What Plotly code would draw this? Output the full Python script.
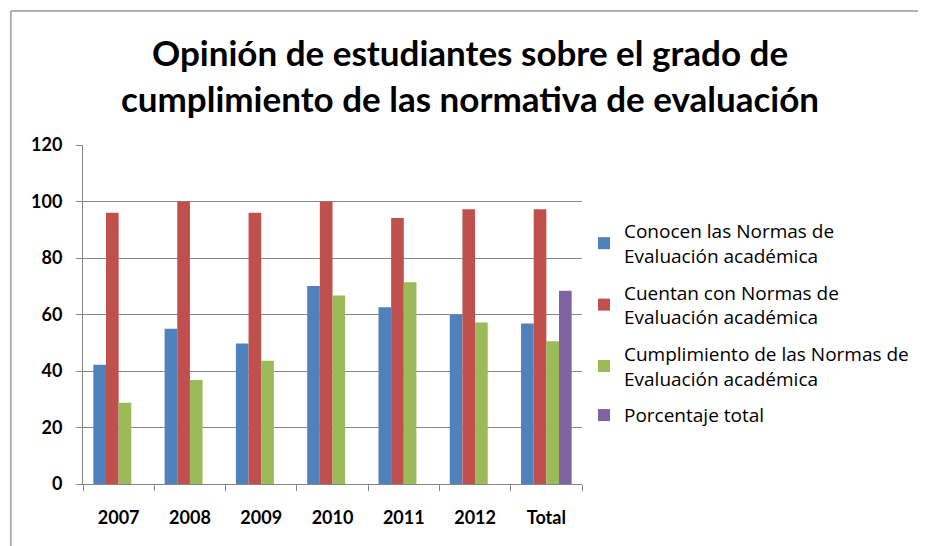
import plotly.graph_objects as go

categories = ["2007", "2008", "2009", "2010", "2011", "2012", "Total"]
conocen = [42.2, 55.0, 49.7, 70.1, 62.6, 59.9, 56.8]
cuentan = [96.0, 100.0, 96.0, 100.0, 94.2, 97.3, 97.3]
cumplimiento = [28.8, 36.8, 43.6, 66.7, 71.4, 57.2, 50.5]
porcentaje = [None, None, None, None, None, None, 68.4]

series_names = [
    "Conocen las Normas de<br>Evaluación académica",
    "Cuentan con Normas de<br>Evaluación académica",
    "Cumplimiento de las Normas de<br>Evaluación académica",
    "Porcentaje total",
]
series_values = [conocen, cuentan, cumplimiento, porcentaje]
colors = ["#4F81BD", "#C0504D", "#9BBB59", "#8064A2"]

# page body has an 8px margin; work in reference pixel coordinates and shift
OFF = 8
W, H = 926 - OFF, 546 - OFF
L, R, T, B = 83 - OFF, 588 - OFF, 145 - OFF, 484 - OFF

fig = go.Figure()
for i, (name, vals, c) in enumerate(zip(series_names, series_values, colors)):
    fig.add_trace(go.Bar(x=categories, y=vals, name=name, marker=dict(color=c, line=dict(width=0)),
                         legendgroup=f"g{i}"))

font_family = "Lato, Open Sans, sans-serif"


def px_x(px):
    return (px - OFF - L) / (R - L)


def px_y(py):
    return (B - (py - OFF)) / (B - T)


fig.update_layout(
    width=W, height=H,
    margin=dict(l=L, r=W - R, t=T, b=H - B, pad=0),
    paper_bgcolor="white", plot_bgcolor="white",
    barmode="group", bargap=0.29, bargroupgap=0,
    font=dict(family=font_family, color="#000000"),
    title=dict(
        text="Opinión de estudiantes sobre el grado de<br>cumplimiento de las normativa de evaluación",
        x=(470 - OFF) / W, xref="container", xanchor="center",
        y=1 - (66 - OFF) / H, yref="container", yanchor="middle",
        font=dict(size=35, family=font_family, color="#000000", weight="bold"),
    ),
    legend=dict(
        x=px_x(590), xanchor="left", y=px_y(212), yanchor="top",
        font=dict(size=19, family="Open Sans, sans-serif", color="#000000"),
        tracegroupgap=9, itemwidth=30,
        bgcolor="rgba(0,0,0,0)",
    ),
    xaxis=dict(
        type="category", showgrid=False, showline=True, linecolor="#868686", linewidth=1,
        ticks="outside", tickson="boundaries", ticklen=6, tickcolor="#868686",
        ticklabelstandoff=17,
        tickfont=dict(size=18, family=font_family, color="#000000", weight="bold"),
        fixedrange=True,
    ),
    yaxis=dict(
        range=[0, 120], dtick=20, showgrid=True, gridcolor="#868686", gridwidth=1,
        showline=True, linecolor="#868686", linewidth=1,
        ticks="outside", ticklen=6, tickcolor="#868686",
        ticklabelstandoff=10,
        tickfont=dict(size=18, family=font_family, color="#000000", weight="bold"),
        zeroline=False, fixedrange=True,
    ),
    shapes=[
        dict(type="line", xref="paper", yref="paper", x0=px_x(10), x1=px_x(940), y0=px_y(11), y1=px_y(11),
             line=dict(color="#9A9A9A", width=1.5)),
        dict(type="line", xref="paper", yref="paper", x0=px_x(10), x1=px_x(10), y0=px_y(11), y1=px_y(560),
             line=dict(color="#9A9A9A", width=1.5)),
    ],
)

fig.write_html("out.html")
